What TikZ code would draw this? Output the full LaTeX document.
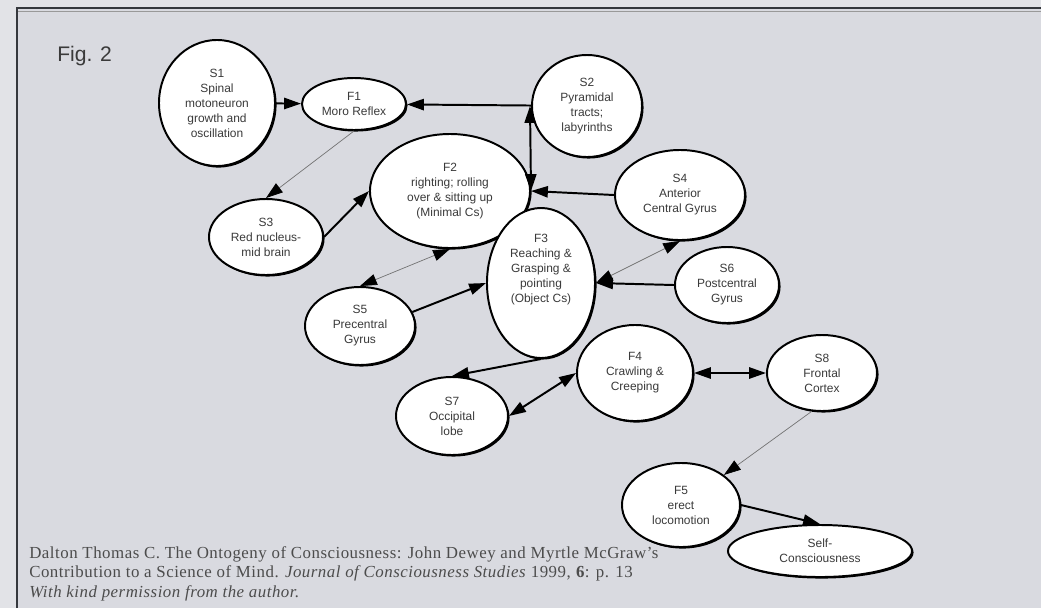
\documentclass[tikz,border=0pt]{standalone}
\usepackage{fontspec}
\setmainfont{Liberation Serif}
\setsansfont{Liberation Sans}
\newfontfamily\citefont[LetterSpace=3,Ligatures=TeX]{Liberation Serif}
\usetikzlibrary{shapes.geometric,shadows,arrows.meta}
\definecolor{outerbg}{HTML}{E2E3E7}
\definecolor{innerbg}{HTML}{D9DAE0}
\definecolor{framecol}{HTML}{35383D}
\definecolor{inkcol}{HTML}{3A3A3A}
\tikzset{
  >={Triangle[length=12pt,width=8pt,color=black]},
  stage/.style={ellipse, draw=black, line width=1.4pt, fill=white, inner sep=0pt,
    align=center, text=inkcol, font=\sffamily\fontsize{8.5}{10.7}\selectfont,
    drop shadow={shadow xshift=1.1pt, shadow yshift=-1.1pt, opacity=1, fill=black}},
  heavy/.style={line width=1.4pt, draw=black},
  light/.style={line width=0.5pt, draw=black!55},
}

\begin{document}
\begin{tikzpicture}[x=0.025cm,y=-0.025cm]
\useasboundingbox (0,0) rectangle (1041,608);
% frame
\fill[outerbg] (0,0) rectangle (1041,608);
\fill[innerbg] (17,8) rectangle (1041,608);
\draw[black!40, line width=0.6pt] (18,11) -- (1041,11);
\draw[framecol, line width=2pt] (17,608) -- (17,8) -- (1041,8);

\node[anchor=base west, inner sep=0pt, text=inkcol, font=\sffamily\fontsize{15}{18}\selectfont] (fig) at (57,61) {Fig. 2};

% stages
\node[stage, minimum width=2.9cm, minimum height=3.15cm] (S1) at (217,103) {S1\\Spinal\\motoneuron\\growth and\\oscillation};
\node[stage, minimum width=2.6cm, minimum height=1.3cm] (F1) at (354,104) {F1\\Moro Reflex};
\node[stage, minimum width=2.75cm, minimum height=2.55cm] (S2) at (587,106) {S2\\Pyramidal\\tracts;\\labyrinths};
\node[stage, minimum width=4cm, minimum height=2.85cm] (F2) at (450,191) {F2\\righting; rolling\\over \& sitting up\\(Minimal Cs)};
\node[stage, minimum width=2.85cm, minimum height=1.9cm] (S3) at (266,237) {S3\\Red nucleus-\\mid brain};
\node[stage, minimum width=3.25cm, minimum height=2.25cm] (S4) at (680,195) {S4\\Anterior\\Central Gyrus};
\node[stage, minimum width=2.7cm, minimum height=3.75cm] (F3) at (541,283) {F3\\Reaching \&\\Grasping \&\\pointing\\(Object Cs)\\[10pt]};
\node[stage, minimum width=2.6cm, minimum height=1.9cm] (S6) at (727,285) {S6\\Postcentral\\Gyrus};
\node[stage, minimum width=2.75cm, minimum height=1.95cm] (S5) at (360,326) {S5\\Precentral\\Gyrus};
\node[stage, minimum width=2.8cm, minimum height=1.95cm] (S7) at (452,416) {S7\\Occipital\\lobe};
\node[stage, minimum width=2.9cm, minimum height=2.4cm] (F4) at (635,373) {F4\\Crawling \&\\Creeping};
\node[stage, minimum width=2.75cm, minimum height=1.9cm] (S8) at (822,373) {S8\\Frontal\\Cortex};
\node[stage, minimum width=2.95cm, minimum height=2.1cm] (F5) at (681,505) {F5\\erect\\locomotion};
\node[stage, minimum width=4.6cm, minimum height=1.3cm] (SC) at (820,551) {Self-\\Consciousness};

% links
\coordinate (j) at (530,106);
\draw[heavy,->] (S1) -- (F1);
\draw[heavy,->] (S2) -- (F1);
\draw[heavy,<->] (j) -- (F2.east);
\draw[light,->] (F1.south) -- (S3.north);
\draw[heavy,->] (S3.east) -- (F2.west);
\draw[heavy,->] (S4.west) -- (F2.east);
\draw[light,<->] (S5.north) -- (F2.south);
\draw[heavy,->] (S5.15) -- (F3.west);
\draw[light,<->] (F3.east) -- (S4.south);
\draw[heavy,->] (S6.west) -- (F3.east);
\draw[heavy,->] (F3.south) -- (S7.north);
\draw[heavy,<->] (S7.east) -- (F4.west);
\draw[heavy,<->] (F4) -- (S8);
\draw[light,->] (S8.255) -- (F5.35);
\draw[heavy,->] (F5.east) -- (SC.north);

% source
\node[anchor=north west, inner sep=0pt, align=left, text=black!70, font=\citefont\fontsize{12}{13.9}\selectfont] (cite) at (29,546)
  {Dalton Thomas C. The Ontogeny of Consciousness: John Dewey and Myrtle McGraw’s\\
   Contribution to a Science of Mind. \textit{Journal of Consciousness Studies} 1999, \textbf{6}: p. 13\\
   \textit{With kind permission from the author.}};
\end{tikzpicture}
\end{document}
